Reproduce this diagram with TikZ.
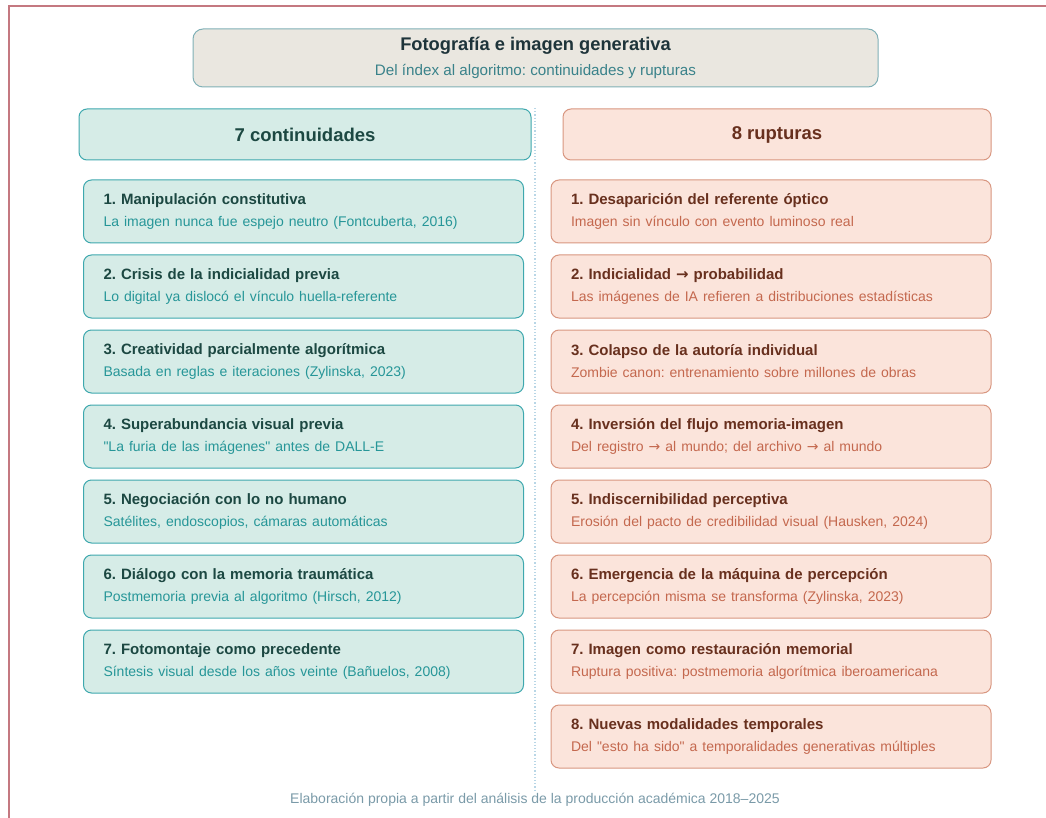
\documentclass[tikz,border=0pt]{standalone}
\usepackage{tikz}
\usepackage{xcolor}
\usepackage{fontspec}
\setmainfont{Liberation Sans}
\newfontfamily\arrowfont{DejaVu Sans}
\newfontfamily\quotefont{Liberation Sans}[Ligatures=ResetAll]
\usetikzlibrary{shapes,positioning}
\frenchspacing
\definecolor{frameline}{RGB}{196,120,128}
\definecolor{titlefill}{RGB}{234,231,224}
\definecolor{titledraw}{RGB}{128,176,182}
\definecolor{titletext}{RGB}{30,52,58}
\definecolor{titlesub}{RGB}{58,130,138}
\definecolor{contfill}{RGB}{214,236,231}
\definecolor{contdraw}{RGB}{62,168,174}
\definecolor{conttext}{RGB}{28,72,66}
\definecolor{contsub}{RGB}{38,150,152}
\definecolor{rupfill}{RGB}{251,228,219}
\definecolor{rupdraw}{RGB}{216,150,128}
\definecolor{ruptext}{RGB}{104,48,30}
\definecolor{rupsub}{RGB}{196,104,78}
\definecolor{divider}{RGB}{184,214,230}
\definecolor{footertext}{RGB}{122,154,168}
\tikzstyle{item} = [rectangle, rounded corners=8pt, line width=1pt, minimum height=63pt, inner xsep=20pt, inner ysep=0pt, text width=400pt, align=left, font=\fontsize{15}{17}\selectfont]

\begin{document}
\begin{tikzpicture}[x=1pt, y=-1pt, node distance=11pt,
    head/.style={rectangle, rounded corners=8pt, line width=1pt, minimum height=51pt, font=\fontsize{18.5}{21}\selectfont\bfseries},
    cont/.style={item, draw=contdraw, fill=contfill, text=conttext},
    rup/.style={item, draw=rupdraw, fill=rupfill, text=ruptext}]
    \useasboundingbox (0,0) rectangle (1046,818);
    \draw[frameline, line width=1.2pt] (9,818) -- (9,6) -- (1046,6);
    \draw[divider, dotted, line width=1.2pt] (535,108) -- (535,792);

    \node[rectangle, rounded corners=10pt, line width=1pt, draw=titledraw, fill=titlefill, minimum width=685pt, minimum height=58pt, align=center] (Title) at (535.5,58) {{\fontsize{18.3}{21}\selectfont\bfseries\color{titletext}Fotografía e imagen generativa}\\[9pt]{\fontsize{15.2}{17}\selectfont\color{titlesub}Del índex al algoritmo: continuidades y rupturas}};

    \node[head, draw=contdraw, fill=contfill, text=conttext, minimum width=452pt] (Continuidades) at (305,134.5) {7 continuidades};
    \node[head, draw=rupdraw, fill=rupfill, text=ruptext, minimum width=428pt] (Rupturas) at (777,134.5) {8 rupturas};

    \node[cont] (C1) at (303.5,211.5) {\textbf{1. Manipulación constitutiva}\\[5pt]{\fontsize{14}{16}\selectfont\color{contsub}La imagen nunca fue espejo neutro (Fontcuberta, 2016)}};
    \node[cont, below=of C1] (C2) {\textbf{2. Crisis de la indicialidad previa}\\[5pt]{\fontsize{14}{16}\selectfont\color{contsub}Lo digital ya dislocó el vínculo huella-referente}};
    \node[cont, below=of C2] (C3) {\textbf{3. Creatividad parcialmente algorítmica}\\[5pt]{\fontsize{14}{16}\selectfont\color{contsub}Basada en reglas e iteraciones (Zylinska, 2023)}};
    \node[cont, below=of C3] (C4) {\textbf{4. Superabundancia visual previa}\\[5pt]{\fontsize{14}{16}\selectfont\color{contsub}{\quotefont"}La furia de las imágenes{\quotefont"} antes de DALL-E}};
    \node[cont, below=of C4] (C5) {\textbf{5. Negociación con lo no humano}\\[5pt]{\fontsize{14}{16}\selectfont\color{contsub}Satélites, endoscopios, cámaras automáticas}};
    \node[cont, below=of C5] (C6) {\textbf{6. Diálogo con la memoria traumática}\\[5pt]{\fontsize{14}{16}\selectfont\color{contsub}Postmemoria previa al algoritmo (Hirsch, 2012)}};
    \node[cont, below=of C6] (C7) {\textbf{7. Fotomontaje como precedente}\\[5pt]{\fontsize{14}{16}\selectfont\color{contsub}Síntesis visual desde los años veinte (Bañuelos, 2008)}};

    \node[rup] (R1) at (771,211.5) {\textbf{1. Desaparición del referente óptico}\\[5pt]{\fontsize{14}{16}\selectfont\color{rupsub}Imagen sin vínculo con evento luminoso real}};
    \node[rup, below=of R1] (R2) {\textbf{2. Indicialidad {\arrowfont →} probabilidad}\\[5pt]{\fontsize{14}{16}\selectfont\color{rupsub}Las imágenes de IA refieren a distribuciones estadísticas}};
    \node[rup, below=of R2] (R3) {\textbf{3. Colapso de la autoría individual}\\[5pt]{\fontsize{14}{16}\selectfont\color{rupsub}Zombie canon: entrenamiento sobre millones de obras}};
    \node[rup, below=of R3] (R4) {\textbf{4. Inversión del flujo memoria-imagen}\\[5pt]{\fontsize{14}{16}\selectfont\color{rupsub}Del registro {\arrowfont →} al mundo; del archivo {\arrowfont →} al mundo}};
    \node[rup, below=of R4] (R5) {\textbf{5. Indiscernibilidad perceptiva}\\[5pt]{\fontsize{14}{16}\selectfont\color{rupsub}Erosión del pacto de credibilidad visual (Hausken, 2024)}};
    \node[rup, below=of R5] (R6) {\textbf{6. Emergencia de la máquina de percepción}\\[5pt]{\fontsize{14}{16}\selectfont\color{rupsub}La percepción misma se transforma (Zylinska, 2023)}};
    \node[rup, below=of R6] (R7) {\textbf{7. Imagen como restauración memorial}\\[5pt]{\fontsize{14}{16}\selectfont\color{rupsub}Ruptura positiva: postmemoria algorítmica iberoamericana}};
    \node[rup, below=of R7] (R8) {\textbf{8. Nuevas modalidades temporales}\\[5pt]{\fontsize{14}{16}\selectfont\color{rupsub}Del {\quotefont"}esto ha sido{\quotefont"} a temporalidades generativas múltiples}};

    \node[text=footertext, font=\fontsize{14}{16}\selectfont] (Footer) at (535,800) {Elaboración propia a partir del análisis de la producción académica 2018–2025};
\end{tikzpicture}
\end{document}
